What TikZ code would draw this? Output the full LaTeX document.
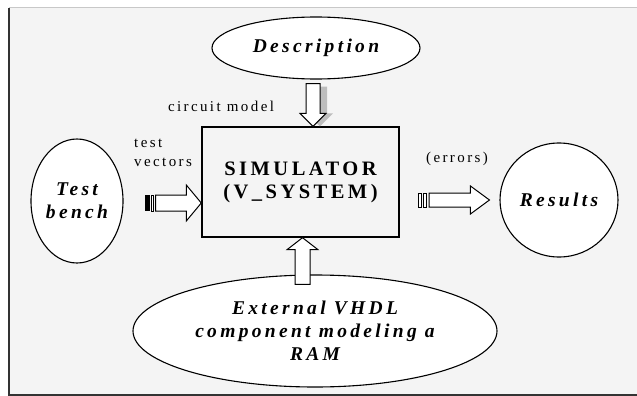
\documentclass[tikz,border=0pt]{standalone}
\usepackage{fontspec}
\setmainfont{Liberation Serif}
\newfontfamily\widebf[LetterSpace=17]{Liberation Serif}
\newfontfamily\widerm[LetterSpace=16]{Liberation Serif}
\usepackage{tikz}
\usetikzlibrary{calc,shapes.geometric,positioning}
\definecolor{panel}{HTML}{F4F4F4}
\definecolor{rule}{HTML}{C8C8C8}
\definecolor{shade}{HTML}{BDBDBD}

\tikzset{
  oval/.style={ellipse, draw, line width=1.1pt, fill=white, inner sep=0pt, align=center,
    font=\widebf\bfseries\itshape\fontsize{19.5}{23}\selectfont},
  sysbox/.style={rectangle, draw, line width=1.4pt, inner sep=0pt, align=center,
    font=\widebf\bfseries\fontsize{20.5}{23}\selectfont},
  note/.style={inner sep=0pt, font=\widerm\fontsize{15}{19}\selectfont},
  blockarrow/.style args={#1/#2/#3}{draw=black, fill=white, line width=1pt,
    to path={let \p1=(\tikztostart), \p2=(\tikztotarget), \p3=($(\p2)!#3!(\p1)$) in
      ($(\p1)!#1!90:(\p2)$) -- ($(\p3)!#1!90:(\p2)$) -- ($(\p3)!#2!90:(\p2)$) -- (\p2)
      -- ($(\p3)!#2!-90:(\p2)$) -- ($(\p3)!#1!-90:(\p2)$) -- ($(\p1)!#1!-90:(\p2)$) -- cycle}},
}

\begin{document}
\begin{tikzpicture}[x=1pt,y=-1pt,line join=miter]
\useasboundingbox (0,0) rectangle (637,396);
% background and frame
\fill[white] (0,0) rectangle (637,396);
\fill[panel] (9,8) rectangle (637,395);
\draw[rule, line width=1pt] (9,8) -- (637,8);
\draw[black!80, line width=1.4pt] (9,8) -- (9,395) -- (637,395);

% blocks
\node[oval, minimum width=208pt, minimum height=62pt] (desc) at (316,48) {Description};
\node[sysbox, minimum width=197pt, minimum height=110pt] (sim) at (300.5,182) {SIMULATOR\\(V\_SYSTEM)};
\node[oval, minimum width=92pt, minimum height=124pt] (bench) at (77,201) {Test\\bench};
\node[oval, minimum width=118pt, minimum height=114pt] (res) at (559,200) {Results};
\node[oval, minimum width=364pt, minimum height=112pt] (ext) at (315,331) {External VHDL\\component modeling a\\RAM};

% labels
\node[note] (cm) at (221,106) {circuit model};
\node[note, anchor=west, align=left] (tv) at (134,152.5) {test\\vectors};
\node[note] (err) at (457,159) {(errors)};

% circuit model arrow with its shadow
\draw[blockarrow=7pt/13pt/13pt, fill=shade, draw=none, transform canvas={shift={(7pt,-3pt)}}]
  ($(desc.south)+(-3,4)$) to ($(sim.north)+(12.5,-3)$);
\draw[blockarrow=7pt/13pt/13pt] ($(desc.south)+(-3,4)$) to ($(sim.north)+(12.5,0)$);

% test vectors
\coordinate (tvtail) at ($(bench.east)+(32,2)$);
\draw[blockarrow=8pt/18pt/15pt] (tvtail) to ($(sim.west)+(0,21)$);
\fill[black] ($(tvtail)+(-11,-8)$) rectangle ($(tvtail)+(-6,8)$);
\draw[line width=0.8pt, fill=white] ($(tvtail)+(-4.5,-8)$) rectangle ($(tvtail)+(-2,8)$);

% errors
\coordinate (errtail) at ($(sim.east)+(29.5,18)$);
\draw[blockarrow=7pt/14pt/19pt] (errtail) to ($(res.west)+(-10,0)$);
\draw[line width=0.8pt, fill=white] ($(errtail)+(-10.5,-7)$) rectangle ($(errtail)+(-7.5,7)$);
\draw[line width=0.8pt, fill=white] ($(errtail)+(-5.5,-7)$) rectangle ($(errtail)+(-2.5,7)$);

% RAM model
\draw[blockarrow=7.5pt/15.5pt/12pt] ($(ext.north)+(-12.5,10)$) to ($(sim.south)+(2,0)$);
\end{tikzpicture}
\end{document}
